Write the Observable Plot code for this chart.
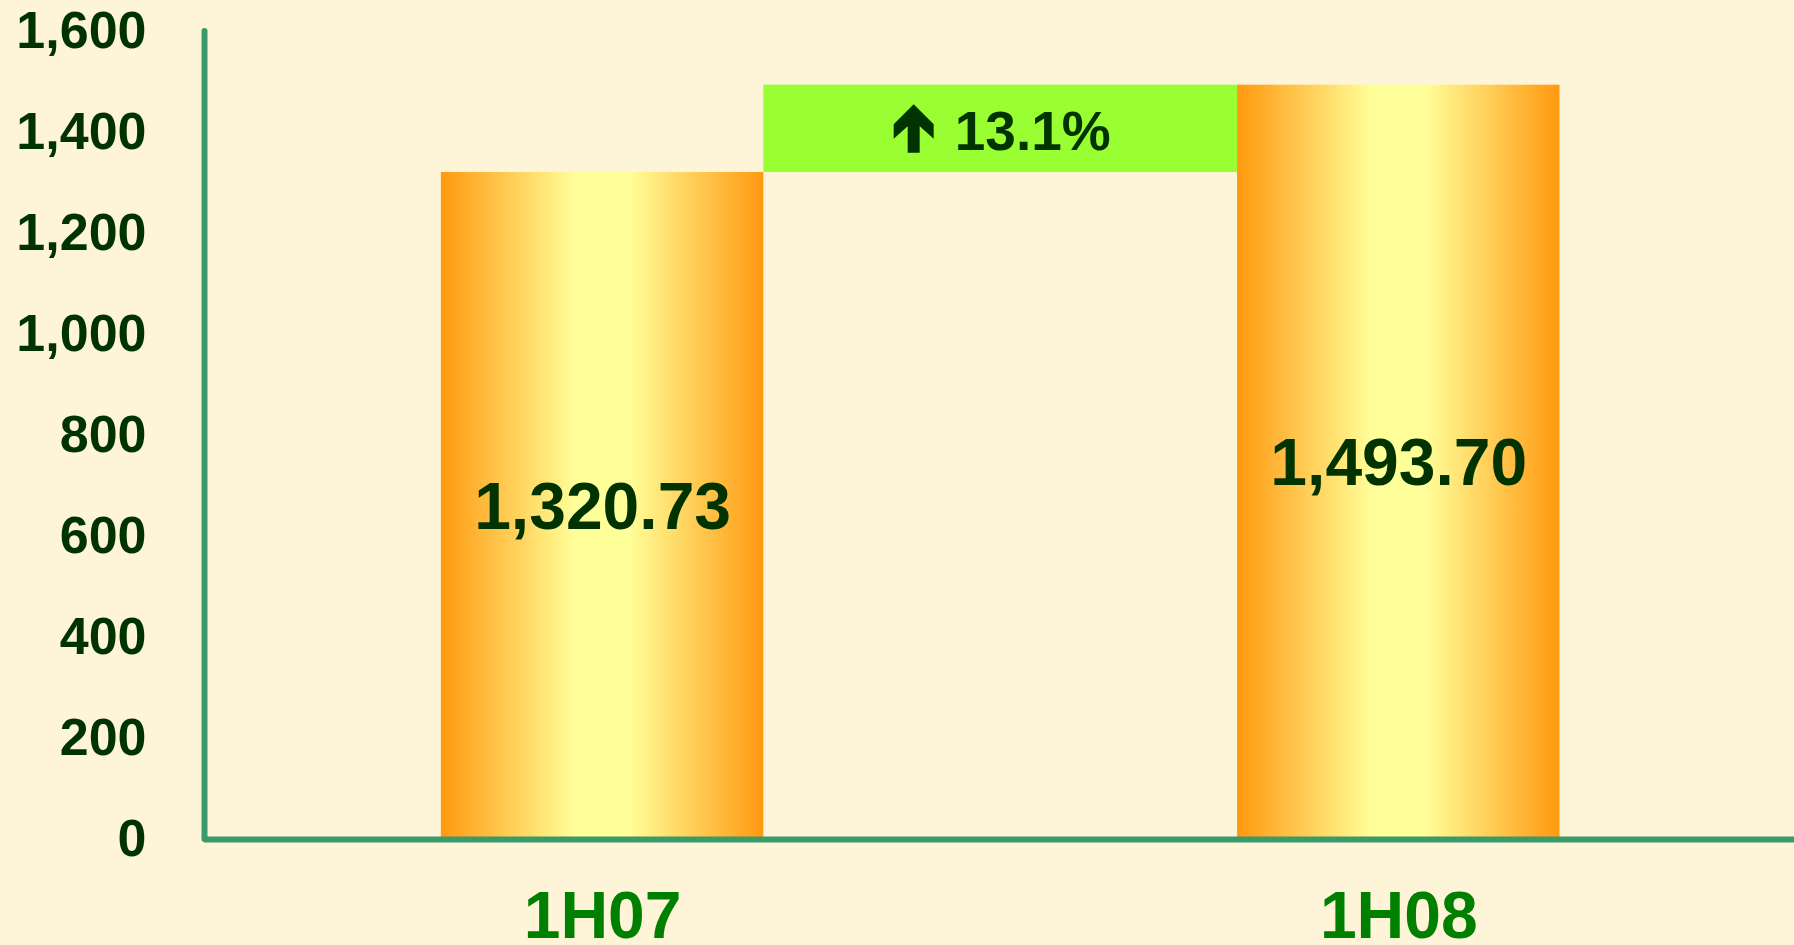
<!DOCTYPE html>
<html>
<head>
<meta charset="utf-8">
<script src="https://cdn.jsdelivr.net/npm/d3@7"></script>
<script src="https://cdn.jsdelivr.net/npm/@observablehq/plot@0.6"></script>
<style>
  html, body { margin: 0; padding: 0; background: #fef5d8; overflow: hidden; }
  #chart svg { display: block; }
</style>
</head>
<body>
<div id="chart"></div>
<script>
// ---- data ----
const periods = ["1H07", "1H08"];
const values = [1320.73, 1493.70];
const yTicks = [0, 200, 400, 600, 800, 1000, 1200, 1400, 1600];

// ---- derived table ----
const rows = periods.map((p, i) => ({i, period: p, value: values[i]}));
const change = (values[1] / values[0] - 1) * 100;
const changeLabel = change.toFixed(1) + "%";

const half = 0.2025; // half bar width in x units
const axisColor = "#3a9a6a";
const darkGreen = "#003300";

// bold up-arrow symbol
const upArrow = {
  draw(ctx, size) {
    const k = Math.sqrt(size / Math.PI) / 20;
    const pts = [[0,-24.5],[20,-4.5],[20,10],[6,-2.5],[6,24],[-6,24],[-6,-2.5],[-20,10],[-20,-4.5]];
    ctx.moveTo(pts[0][0]*k, pts[0][1]*k);
    for (let j = 1; j < pts.length; j++) ctx.lineTo(pts[j][0]*k, pts[j][1]*k);
    ctx.closePath();
  }
};

const gradientDefs = () => {
  const defs = d3.create("svg:defs");
  const g = defs.append("linearGradient").attr("id", "barGrad")
    .attr("x1", "0%").attr("x2", "100%").attr("y1", "0%").attr("y2", "0%");
  [[0, "#ff9910"], [0.42, "#ffff99"], [0.58, "#ffff99"], [1, "#ff9910"]].forEach(([o, c]) =>
    g.append("stop").attr("offset", o).attr("stop-color", c));
  return defs.node();
};

const chart = Plot.plot({
  width: 1794,
  height: 945,
  marginTop: 31,
  marginBottom: 106,
  marginLeft: 204,
  marginRight: 0,
  style: {
    background: "#fef5d8",
    fontFamily: "'Liberation Sans', Arial, sans-serif",
    fontWeight: "bold",
    overflow: "visible"
  },
  x: {domain: [-0.5, 1.497]},
  y: {domain: [0, 1600]},
  marks: [
    gradientDefs,
    Plot.rect([0], {
      x1: () => rows[0].i + half,
      x2: () => rows[1].i - half,
      y1: () => values[0],
      y2: () => values[1],
      fill: "#99ff33"
    }),
    Plot.rectY(rows, {
      x1: d => d.i - half,
      x2: d => d.i + half,
      y: "value",
      fill: "url(#barGrad)"
    }),
    Plot.text(rows, {
      x: "i",
      y: d => d.value / 2,
      text: d => d3.format(",.2f")(d.value),
      fontSize: 66,
      fontWeight: "bold",
      fill: darkGreen,
      dy: 2
    }),
    Plot.text([0], {
      x: () => (rows[0].i + rows[1].i) / 2,
      y: () => (values[0] + values[1]) / 2,
      text: () => changeLabel,
      fontSize: 55,
      fontWeight: "bold",
      fill: darkGreen,
      dx: 32,
      dy: 4
    }),
    Plot.dot([0], {
      x: () => (rows[0].i + rows[1].i) / 2,
      y: () => (values[0] + values[1]) / 2,
      symbol: upArrow,
      r: 20,
      fill: darkGreen,
      stroke: "none",
      dx: -87,
      dy: 0
    }),
    Plot.ruleY([0], {stroke: axisColor, strokeWidth: 6}),
    Plot.ruleX([-0.5], {y1: 0, y2: yTicks[yTicks.length - 1], stroke: axisColor, strokeWidth: 6, strokeLinecap: "round"}),
    Plot.axisY({
      ticks: yTicks,
      tickFormat: d3.format(","),
      tickSize: 0,
      tickPadding: 58,
      fontSize: 52,
      fontWeight: "bold",
      fill: darkGreen,
      label: null
    }),
    Plot.axisX({
      ticks: rows.map(d => d.i),
      tickFormat: i => periods[i],
      tickSize: 0,
      tickPadding: 52,
      fontSize: 66,
      fontWeight: "bold",
      fill: "#008000",
      label: null
    })
  ]
});

document.getElementById("chart").appendChild(chart);
</script>
</body>
</html>
